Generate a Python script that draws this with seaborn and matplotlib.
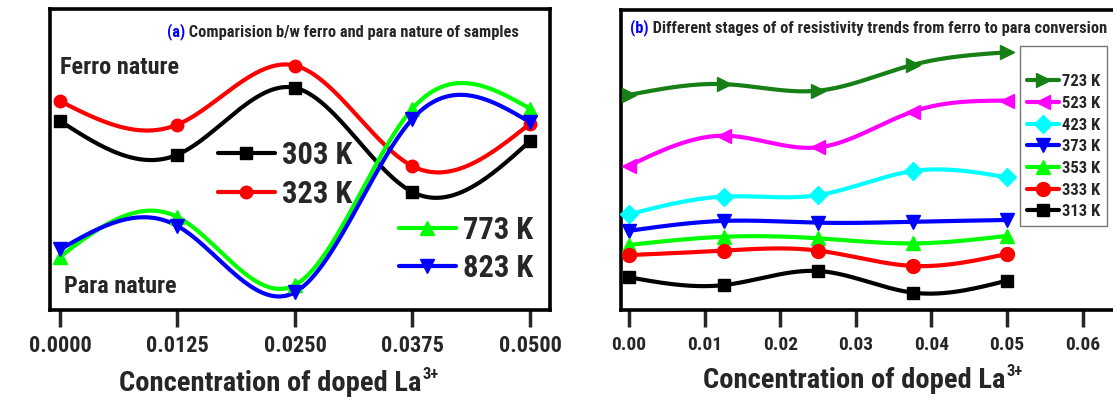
import numpy as np
import pandas as pd
import matplotlib
matplotlib.use("Agg")
import matplotlib.pyplot as plt
from matplotlib.lines import Line2D
import seaborn as sns

# ---------------- data ----------------
conc = [0.0, 0.0125, 0.025, 0.0375, 0.05]

# panel (a)
a_labels = ["303 K", "323 K", "773 K", "823 K"]
a_303 = [6.28, 5.16, 7.38, 3.92, 5.61]
a_323 = [6.94, 6.16, 8.12, 4.78, 6.19]
a_773 = [1.77, 3.09, 0.83, 6.69, 6.69]
a_823 = [2.01, 2.79, 0.59, 6.35, 6.24]

# panel (b)
b_labels = ["723 K", "523 K", "423 K", "373 K", "353 K", "333 K", "313 K"]
b_723 = [7.17, 7.53, 7.31, 8.17, 8.59]
b_523 = [4.81, 5.81, 5.42, 6.61, 6.98]
b_423 = [3.19, 3.78, 3.83, 4.63, 4.42]
b_373 = [2.64, 2.97, 2.91, 2.94, 3.00]
b_353 = [2.17, 2.44, 2.39, 2.22, 2.47]
b_333 = [1.83, 1.98, 1.98, 1.47, 1.87]
b_313 = [1.09, 0.83, 1.30, 0.58, 0.98]

a_ticks = [0.0, 0.0125, 0.025, 0.0375, 0.05]
a_ticklabels = ["0.0000", "0.0125", "0.0250", "0.0375", "0.0500"]
b_ticks = [0.0, 0.01, 0.02, 0.03, 0.04, 0.05, 0.06]
b_ticklabels = ["0.00", "0.01", "0.02", "0.03", "0.04", "0.05", "0.06"]

# ---------------- style ----------------
sns.set_theme(style="white")
NARROW = ["Roboto Condensed", "Archivo Narrow", "DejaVu Sans"]
WIDE = ["Liberation Sans", "DejaVu Sans"]
plt.rcParams["font.family"] = NARROW
plt.rcParams["font.weight"] = "bold"


def smooth(x, y, n=300):
    """natural cubic spline used only to draw the connecting curve"""
    x = np.asarray(x, float)
    y = np.asarray(y, float)
    m = len(x)
    h = np.diff(x)
    A = np.zeros((m, m))
    r = np.zeros(m)
    A[0, 0] = A[-1, -1] = 1.0
    for i in range(1, m - 1):
        A[i, i - 1] = h[i - 1]
        A[i, i] = 2 * (h[i - 1] + h[i])
        A[i, i + 1] = h[i]
        r[i] = 6 * ((y[i + 1] - y[i]) / h[i] - (y[i] - y[i - 1]) / h[i - 1])
    M = np.linalg.solve(A, r)
    xs = np.linspace(x[0], x[-1], n)
    idx = np.clip(np.searchsorted(x, xs) - 1, 0, m - 2)
    x0, x1 = x[idx], x[idx + 1]
    hh = x1 - x0
    t0 = x1 - xs
    t1 = xs - x0
    ys = (M[idx] * t0 ** 3 + M[idx + 1] * t1 ** 3) / (6 * hh) \
        + (y[idx] / hh - M[idx] * hh / 6) * t0 \
        + (y[idx + 1] / hh - M[idx + 1] * hh / 6) * t1
    return xs, ys


def draw(ax, y, color, marker, ms, lw, label):
    xs, ys = smooth(conc, y)
    sns.lineplot(x=xs, y=ys, ax=ax, color=color, lw=lw, sort=False,
                 estimator=None, legend=False)
    ax.plot(conc, y, ls="none", marker=marker, ms=ms, color=color,
            mec=color, zorder=5, clip_on=False)
    return Line2D([], [], color=color, lw=lw, marker=marker, ms=ms, label=label)


W, H = 1113, 405
fig = plt.figure(figsize=(W / 100, H / 100), dpi=100)

def axbox(l, t, r, b):
    return [l / W, 1 - b / H, (r - l) / W, (b - t) / H]

axA = fig.add_axes(axbox(50, 9, 550, 310))
axB = fig.add_axes(axbox(621, 10, 1122, 310))

for ax in (axA, axB):
    for s in ax.spines.values():
        s.set_linewidth(2.6)
        s.set_color("black")
    ax.set_yticks([])
    ax.set_ylim(0, 10)


def xlabel_with_sup(ax, xfrac, yfrac):
    ax.set_xlabel("Concentration of doped La", fontsize=20.5, fontweight="bold")
    ax.xaxis.set_label_coords(xfrac, yfrac)
    ax.annotate("3+", xy=(1, 1), xycoords=ax.xaxis.label, xytext=(1, 2),
                textcoords="offset points", ha="left", va="top",
                fontsize=12, fontweight="bold")


# ---------------- panel (a) ----------------
hA = []
hA.append(draw(axA, a_303, "black", "s", 8, 3, a_labels[0]))
hA.append(draw(axA, a_323, "#ff0000", "o", 9, 3, a_labels[1]))
hA.append(draw(axA, a_773, "#00ff00", "^", 10, 3, a_labels[2]))
hA.append(draw(axA, a_823, "#0000ff", "v", 10, 3, a_labels[3]))

axA.set_xlim(-0.00106, 0.05213)
axA.set_xticks(a_ticks)
axA.set_xticklabels(a_ticklabels)
axA.tick_params(axis="x", direction="out", length=12, width=2.5,
                labelsize=16, pad=6, bottom=True)

leg1 = axA.legend(handles=hA[:2], loc="upper left", bbox_to_anchor=(0.336, 0.565),
                  frameon=False, fontsize=22, handlelength=1.85, handletextpad=0.25,
                  labelspacing=0.3, borderpad=0, borderaxespad=0)
axA.add_artist(leg1)
axA.legend(handles=hA[2:], loc="upper left", bbox_to_anchor=(0.698, 0.315),
           frameon=False, fontsize=22, handlelength=1.85, handletextpad=0.25,
           labelspacing=0.25, borderpad=0, borderaxespad=0)

axA.text(0.02, 0.785, "Ferro nature", transform=axA.transAxes, fontsize=17.5,
         fontweight="bold", va="baseline")
axA.text(0.028, 0.055, "Para nature", transform=axA.transAxes, fontsize=17.5,
         fontweight="bold", va="baseline")

ta = axA.text(0.234, 0.91, "(a)", transform=axA.transAxes, fontsize=11.8,
              color="#0000ff", fontweight="bold", va="baseline")
axA.annotate(" Comparision b/w ferro and para nature of samples", xy=(1, 0),
             xycoords=ta, va="bottom", ha="left", fontsize=11.8, fontweight="bold")

axA.set_ylabel("Log ρ(Ω cm)", fontsize=20, fontweight="bold", family=WIDE)
axA.yaxis.set_label_coords(-0.054, 0.5)
xlabel_with_sup(axA, 0.44, -0.2)

# ---------------- panel (b) ----------------
hB = []
hB.append(draw(axB, b_723, "#168016", ">", 10, 3, b_labels[0]))
hB.append(draw(axB, b_523, "#ff00ff", "<", 10, 3, b_labels[1]))
hB.append(draw(axB, b_423, "#00ffff", "D", 9, 3, b_labels[2]))
hB.append(draw(axB, b_373, "#0000ff", "v", 10, 3, b_labels[3]))
hB.append(draw(axB, b_353, "#00ff00", "^", 10, 3, b_labels[4]))
hB.append(draw(axB, b_333, "#ff0000", "o", 10, 3, b_labels[5]))
hB.append(draw(axB, b_313, "black", "s", 8, 3, b_labels[6]))

axB.set_xlim(-0.00106, 0.0652)
axB.set_xticks(b_ticks)
axB.set_xticklabels(b_ticklabels)
axB.tick_params(axis="x", direction="out", length=12, width=2.5,
                labelsize=14, pad=7, bottom=True)

legB = axB.legend(handles=hB, loc="upper left", bbox_to_anchor=(0.797, 0.88),
                  frameon=True, fancybox=False, fontsize=12, handlelength=1.9,
                  handletextpad=0.2, labelspacing=0.4, borderpad=0.4,
                  borderaxespad=0, title=" ", title_fontsize=12)
legB.get_frame().set_edgecolor("#555555")
legB.get_frame().set_linewidth(1.0)

tb = axB.text(0.018, 0.925, "(b)", transform=axB.transAxes, fontsize=11.8,
              color="#0000ff", fontweight="bold", va="baseline")
axB.annotate(" Different stages of of resistivity trends from ferro to para conversion",
             xy=(1, 0), xycoords=tb, va="bottom", ha="left", fontsize=11.8,
             fontweight="bold")

axB.set_ylabel("Log ρ(Ω cm)", fontsize=20, fontweight="bold", family=WIDE)
axB.yaxis.set_label_coords(-0.052, 0.46)
xlabel_with_sup(axB, 0.465, -0.19)

fig.savefig("out.png", dpi=100)
